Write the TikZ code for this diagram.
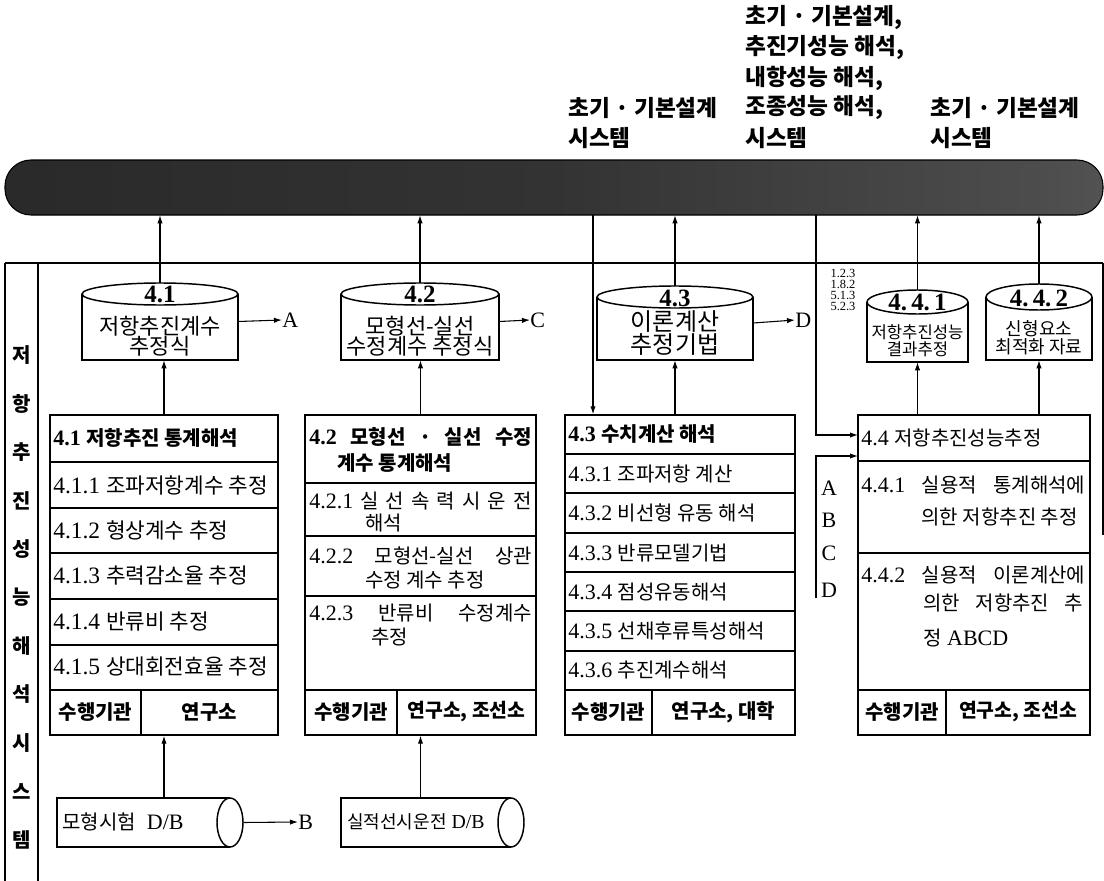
\documentclass[tikz,border=0pt]{standalone}
\usepackage{fontspec}
\setmainfont{Liberation Serif}[Scale=1.1]
\newfontfamily\kr{Noto Sans CJK KR}
\usetikzlibrary{arrows.meta,fit}
\newcommand{\kt}[1]{{\kr #1}}
\newcommand{\JL}[2]{\makebox[#1][s]{#2}}
\colorlet{bnA}{black!86}
\colorlet{bnB}{black!80}
\colorlet{bnC}{black!70}
\colorlet{bnD}{black!58}
\pgfdeclarehorizontalshading{bannershade}{100bp}{color(0bp)=(black); color(4bp)=(black); color(9bp)=(bnA); color(50bp)=(bnB); color(72bp)=(bnC); color(88bp)=(bnD); color(100bp)=(bnD)}
\newcommand{\vcyl}[5]{%
  \draw[boxline] (#1,#3) -- (#1,#5) -- (#2,#5) -- (#2,#3);
  \draw[boxline] ({(#1+#2)/2},#3) ellipse ({(#2-#1)/2} and #4);}
\newcommand{\hcyl}[5]{%
  \draw[boxline] (#2,#3) -- (#1,#3) -- (#1,#4) -- (#2,#4);
  \draw[boxline] (#2,{(#3+#4)/2}) ellipse (#5 and {(#4-#3)/2});}
\begin{document}
\begin{tikzpicture}[x=0.75pt, y={(0pt,-0.75pt)},
  boxline/.style={line width=1.1pt},
  conn/.style={line width=0.8pt},
  arr/.style={conn, -{Latex[length=6pt,width=4pt]}},
  txt/.style={inner sep=0pt, anchor=west, font=\fontsize{15}{18}\selectfont},
  btxt/.style={inner sep=0pt, anchor=west, font=\bfseries\fontsize{15}{18}\selectfont},
  ctxt/.style={inner sep=0pt, anchor=center, font=\fontsize{15}{18}\selectfont},
  bctxt/.style={inner sep=0pt, anchor=center, font=\bfseries\fontsize{15}{18}\selectfont},
  toplab/.style={inner sep=0pt, anchor=west, font=\kr\bfseries\fontsize{17}{18}\selectfont},
  vlab/.style={inner sep=0pt, font=\kr\bfseries\fontsize{15}{18}\selectfont},
  letter/.style={inner sep=0pt, font=\fontsize{15}{18}\selectfont},
  cylnum/.style={inner sep=0pt, font=\bfseries\fontsize{17}{18}\selectfont},
  cyltxt/.style={inner sep=0pt, align=center, font=\kr\fontsize{16.5}{15}\selectfont},
  refnum/.style={inner sep=0pt, font=\fontsize{8.5}{8.5}\selectfont},
  shapebox/.style={inner sep=0pt}]

\useasboundingbox (0,0) rectangle (1104,881);
\fill[white] (0,0) rectangle (1104,881);

% top labels
\node[toplab] (t1) at (745,18) {초기 · 기본설계,};
\node[toplab] (t2) at (745,48) {추진기성능 해석,};
\node[toplab] (t3) at (745,78) {내항성능 해석,};
\node[toplab] (t4) at (745,108) {조종성능 해석,};
\node[toplab] (t5) at (745,138) {시스템};
\node[toplab] (t6) at (568,108) {초기 · 기본설계};
\node[toplab] (t7) at (568,138) {시스템};
\node[toplab] (t8) at (930,108) {초기 · 기본설계};
\node[toplab] (t9) at (930,138) {시스템};

% banner
\shadedraw[shading=bannershade, draw=black, line width=0.8pt, rounded corners=19.5pt] (5,160) rectangle (1103,215);
\node[fit={(5,160) (1103,215)}, shapebox] (ban) {};

% frame
\draw[boxline] (5,263) -- (1103,263);
\draw[boxline] (5,263) -- (5,881);
\draw[boxline] (38,263) -- (38,881);
\draw[boxline] (1103,263) -- (1103,535);

% vertical title
\foreach \ch [count=\i from 0] in {저,항,추,진,성,능,해,석,시,스,템}
  \node[vlab] (v\i) at (22,{355+48.5*\i}) {\ch};

% cylinders
\vcyl{82}{238}{294}{11}{360}
\node[fit={(82,283) (238,360)}, shapebox] (c41) {};
\node[cylnum] (c41n) at (160,294) {4.1};
\node[cyltxt] (c41t) at (160,336) {저항추진계수\\추정식};

\vcyl{341}{499}{294}{11}{360}
\node[fit={(341,283) (499,360)}, shapebox] (c42) {};
\node[cylnum] (c42n) at (420,294) {4.2};
\node[cyltxt] (c42t) at (420,336) {모형선-실선\\수정계수 추정식};

\vcyl{597}{753}{297}{11}{360}
\node[fit={(597,286) (753,360)}, shapebox] (c43) {};
\node[cylnum] (c43n) at (675,298) {4.3};
\node[cyltxt, font=\kr\fontsize{18}{14.5}\selectfont] (c43t) at (675,333) {이론계산\\추정기법};

\vcyl{867}{968}{302}{12}{362}
\node[fit={(867,290) (968,362)}, shapebox] (c441) {};
\node[cylnum] (c441n) at (917.5,302) {4.\,4.\,1};
\node[cyltxt, font=\kr\fontsize{12.5}{13}\selectfont] (c441t) at (917.5,341) {저항추진성능\\결과추정};

\vcyl{986}{1092}{297}{13}{360}
\node[fit={(986,284) (1092,360)}, shapebox] (c442) {};
\node[cylnum] (c442n) at (1039,298) {4.\,4.\,2};
\node[cyltxt, font=\kr\fontsize{13.5}{13.5}\selectfont] (c442t) at (1039,338) {신형요소\\최적화 자료};

\node[refnum] (ref1) at (843,273) {1.2.3};
\node[refnum] (ref2) at (843,284) {1.8.2};
\node[refnum] (ref3) at (843,295) {5.1.3};
\node[refnum] (ref4) at (843,306) {5.2.3};

% letters next to cylinders
\node[letter, anchor=west] (lA) at (282,320) {A};
\node[letter, anchor=west] (lC) at (530,320) {C};
\node[letter, anchor=west] (lD) at (795,320) {D};

% ---- box 4.1
\node[fit={(50,415) (278,735)}, shapebox, draw, boxline] (b41) {};
\foreach \yy in {462,508,553,599,645,690} \draw[boxline] (50,\yy) -- (278,\yy);
\draw[boxline] (141,690) -- (141,735);
\node[btxt] (r410) at (53,438) {4.1 \kt{저항추진 통계해석}};
\node[txt, font=\fontsize{16}{18}\selectfont] (r411) at (53,485) {4.1.1 \kt{조파저항계수 추정}};
\node[txt, font=\fontsize{16}{18}\selectfont] (r412) at (53,530) {4.1.2 \kt{형상계수 추정}};
\node[txt, font=\fontsize{16}{18}\selectfont] (r413) at (53,576) {4.1.3 \kt{추력감소율 추정}};
\node[txt, font=\fontsize{16}{18}\selectfont] (r414) at (53,622) {4.1.4 \kt{반류비 추정}};
\node[txt, font=\fontsize{16}{18}\selectfont] (r415) at (53,667) {4.1.5 \kt{상대회전효율 추정}};
\node[bctxt] (o41a) at (95.5,712) {\kt{수행기관}};
\node[bctxt] (o41b) at (209.5,712) {\kt{연구소}};

% ---- box 4.2
\node[fit={(305,415) (536,735)}, shapebox, draw, boxline] (b42) {};
\foreach \yy in {483,536,596,690} \draw[boxline] (305,\yy) -- (536,\yy);
\draw[boxline] (397,690) -- (397,735);
\node[btxt] (r420) at (309,437) {\JL{167pt}{4.2\hfill\kt{모형선}\hfill\kt{·}\hfill\kt{실선}\hfill\kt{수정}}};
\node[btxt] (r420b) at (337,463) {\kt{계수 통계해석}};
\node[txt] (r421) at (309,501) {\JL{167pt}{4.2.1\hfill\kt{실}\hfill\kt{선}\hfill\kt{속}\hfill\kt{력}\hfill\kt{시}\hfill\kt{운}\hfill\kt{전}}};
\node[txt] (r421b) at (365,523) {\kt{해석}};
\node[txt] (r422) at (309,556) {\JL{167pt}{4.2.2\hfill\kt{모형선-실선}\hfill\kt{상관}}};
\node[txt] (r422b) at (365,580) {\kt{수정 계수 추정}};
\node[txt] (r423) at (309,613) {\JL{167pt}{4.2.3\hfill\kt{반류비}\hfill\kt{수정계수}}};
\node[txt] (r423b) at (371,637) {\kt{추정}};
\node[bctxt] (o42a) at (351,712) {\kt{수행기관}};
\node[bctxt, font=\bfseries\fontsize{14.5}{18}\selectfont] (o42b) at (466.5,712) {\kt{연구소, 조선소}};

% ---- box 4.3
\node[fit={(565,415) (795,735)}, shapebox, draw, boxline] (b43) {};
\foreach \yy in {454,493,533,572,611,651,690} \draw[boxline] (565,\yy) -- (795,\yy);
\draw[boxline] (652,690) -- (652,735);
\node[btxt] (r430) at (568,434) {4.3 \kt{수치계산 해석}};
\node[txt] (r431) at (568,474) {4.3.1 \kt{조파저항 계산}};
\node[txt] (r432) at (568,513) {4.3.2 \kt{비선형 유동 해석}};
\node[txt] (r433) at (568,553) {4.3.3 \kt{반류모델기법}};
\node[txt] (r434) at (568,592) {4.3.4 \kt{점성유동해석}};
\node[txt] (r435) at (568,631) {4.3.5 \kt{선채후류특성해석}};
\node[txt] (r436) at (568,670) {4.3.6 \kt{추진계수해석}};
\node[bctxt] (o43a) at (608.5,712) {\kt{수행기관}};
\node[bctxt] (o43b) at (723.5,712) {\kt{연구소, 대학}};

% ---- box 4.4
\node[fit={(858,415) (1090,735)}, shapebox, draw, boxline] (b44) {};
\foreach \yy in {461,553,690} \draw[boxline] (858,\yy) -- (1090,\yy);
\draw[boxline] (946,690) -- (946,735);
\node[txt] (r440) at (861,438) {4.4 \kt{저항추진성능추정}};
\node[txt] (r441) at (861,485) {\JL{168pt}{4.4.1\hfill\kt{실용적}\hfill\kt{통계해석에}}};
\node[txt, anchor=east] (r441b) at (1078,517) {\kt{의한 저항추진 추정}};
\node[txt] (r442) at (861,575) {\JL{168pt}{4.4.2\hfill\kt{실용적}\hfill\kt{이론계산에}}};
\node[txt] (r442b) at (923,603) {\JL{120pt}{\kt{의한}\hfill\kt{저항추진}\hfill\kt{추}}};
\node[txt] (r442c) at (923,638) {\kt{정} ABCD};
\node[bctxt] (o44a) at (902,712) {\kt{수행기관}};
\node[bctxt, font=\bfseries\fontsize{14.5}{18}\selectfont] (o44b) at (1018,712) {\kt{연구소, 조선소}};

% bracket letters
\node[letter] (kA) at (829,488) {A};
\node[letter] (kB) at (829,520) {B};
\node[letter] (kC) at (829,553) {C};
\node[letter] (kD) at (829,590) {D};

% databases
\hcyl{57}{230}{798}{847}{13}
\node[fit={(57,798) (243,847)}, shapebox] (db1) {};
\node[txt, font=\fontsize{15}{18}\selectfont] (db1t) at (62,822) {\kt{모형시험}\ \ D/B};
\node[letter, anchor=west] (lB) at (298,822) {B};

\hcyl{341}{511}{798}{847}{13}
\node[fit={(341,798) (524,847)}, shapebox] (db2) {};
\node[txt, font=\fontsize{13.5}{18}\selectfont] (db2t) at (347,822) {\kt{실적선시운전} D/B};

% ---- connectors
\draw[arr] (c41.north) -- (c41.north |- ban.south);
\draw[arr] (c42.north) -- (c42.north |- ban.south);
\draw[arr] (c43.north) -- (c43.north |- ban.south);
\draw[arr] (c441.north) -- (c441.north |- ban.south);
\draw[arr] (c442.north) -- (c442.north |- ban.south);

\draw[arr] (b41.north) -- (b41.north |- c41.south);
\draw[arr] (b42.north) -- (b42.north |- c42.south);
\draw[arr] (c43.south |- b43.north) -- (c43.south);
\draw[arr] (c441.south |- b44.north) -- (c441.south);
\draw[arr] (c442.south |- b44.north) -- (c442.south);

\draw[arr] (c41.east) -- (lA.west);
\draw[arr] (c42.east) -- (lC.west);
\draw[arr] (c43.east) -- (lD.west);

\coordinate (d43) at (593,215);
\draw[arr] (d43) -- (d43 |- b43.north);
\coordinate (d44) at (816,215);
\coordinate (in44a) at (858,435);
\draw[arr] (d44) |- (in44a);
\coordinate (brk) at (816,598);
\coordinate (in44b) at (858,456);
\draw[arr] (brk) |- (in44b);

\draw[arr] (b41.south |- db1.north) -- (b41.south);
\draw[arr] (b42.south |- db2.north) -- (b42.south);
\draw[arr] (db1.east) -- (lB.west);
\end{tikzpicture}
\end{document}
